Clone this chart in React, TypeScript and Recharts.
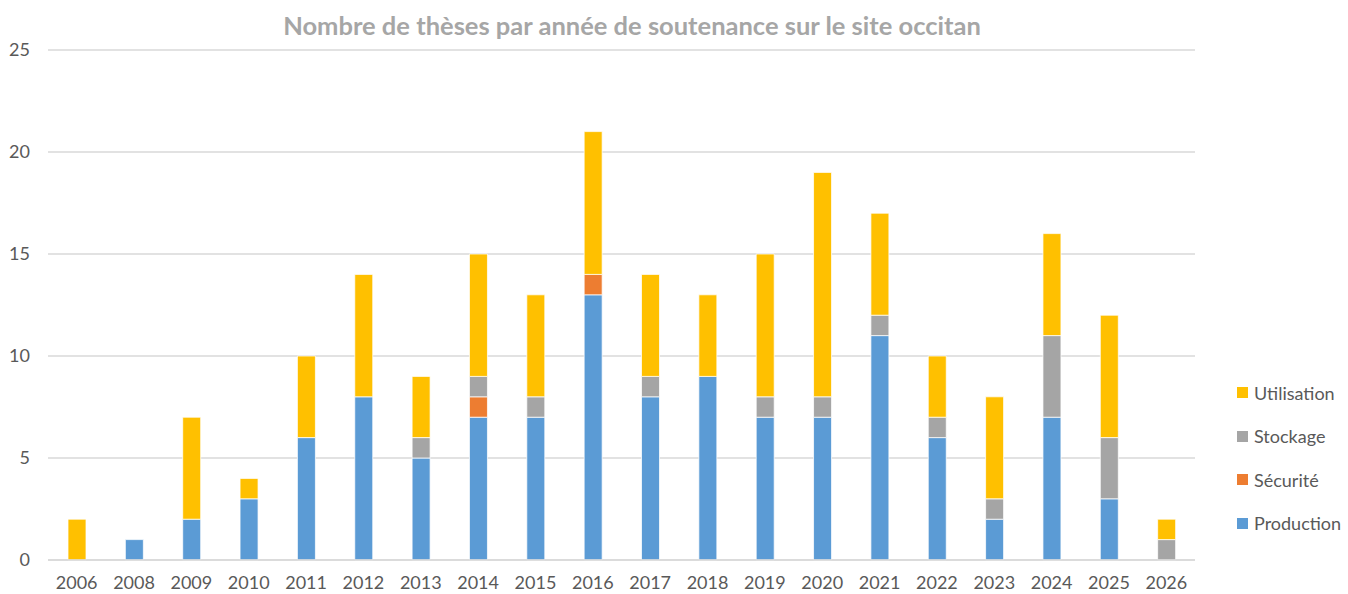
import React from 'react';
import { BarChart, Bar, XAxis, YAxis, CartesianGrid } from 'recharts';

const years = ['2006','2008','2009','2010','2011','2012','2013','2014','2015','2016','2017','2018','2019','2020','2021','2022','2023','2024','2025','2026'];
const production = [0,1,2,3,6,8,5,7,7,13,8,9,7,7,11,6,2,7,3,0];
const securite =   [0,0,0,0,0,0,0,1,0,1,0,0,0,0,0,0,0,0,0,0];
const stockage =   [0,0,0,0,0,0,1,1,1,0,1,0,1,1,1,1,1,4,3,1];
const utilisation =[2,0,5,1,4,6,3,6,5,7,5,4,7,11,5,3,5,5,6,1];
const yTicks = [0,5,10,15,20,25];

const series = [
  { key: 'Production', values: production, color: '#5B9BD5' },
  { key: 'Sécurité', values: securite, color: '#ED7D31' },
  { key: 'Stockage', values: stockage, color: '#A5A5A5' },
  { key: 'Utilisation', values: utilisation, color: '#FFC000' },
];

const data = years.map((y, i) => {
  const row: Record<string, any> = { year: y };
  series.forEach(s => { row[s.key] = s.values[i]; });
  return row;
});

const FONT = 'Lato, "Open Sans", sans-serif';

export default function App() {
  return (
    <div style={{ position: 'absolute', left: 0, top: 0, width: 1348, height: 594, background: '#fff', overflow: 'hidden' }}>
      <div style={{ position: 'absolute', left: 0, top: 10, width: 1264, textAlign: 'center', fontFamily: FONT, fontWeight: 700, fontSize: 25.5, color: '#A6A6A6' }}>
        Nombre de thèses par année de soutenance sur le site occitan
      </div>
      <div style={{ position: 'absolute', left: 1237, top: 371, fontFamily: FONT, fontSize: 18, color: '#595959' }}>
        {[...series].reverse().map(s => (
          <div key={s.key} style={{ display: 'flex', alignItems: 'center', height: 43.5 }}>
            <span style={{ display: 'inline-block', width: 11, height: 11, background: s.color, marginRight: 6 }} />
            <span>{s.key}</span>
          </div>
        ))}
      </div>
      <BarChart width={1348} height={594} data={data} margin={{ top: 50, right: 153, bottom: 4, left: 8 }} barSize={18}>
        <CartesianGrid vertical={false} stroke="#D9D9D9" strokeWidth={1.5} />
        <XAxis dataKey="year" axisLine={{ stroke: '#D9D9D9', strokeWidth: 1.5 }} tickLine={false} tickSize={0} tickMargin={16} height={30}
          tick={{ fill: '#595959', fontSize: 18, fontFamily: FONT }} interval={0} />
        <YAxis domain={[0, 25]} ticks={yTicks} axisLine={false} tickLine={false} tickSize={0} tickMargin={18} width={40}
          tick={{ fill: '#595959', fontSize: 18, fontFamily: FONT }} />
        {series.map(s => (
          <Bar key={s.key} dataKey={s.key} stackId="a" fill={s.color} stroke="#ffffff" strokeWidth={0.75} isAnimationActive={false} />
        ))}
      </BarChart>
    </div>
  );
}
